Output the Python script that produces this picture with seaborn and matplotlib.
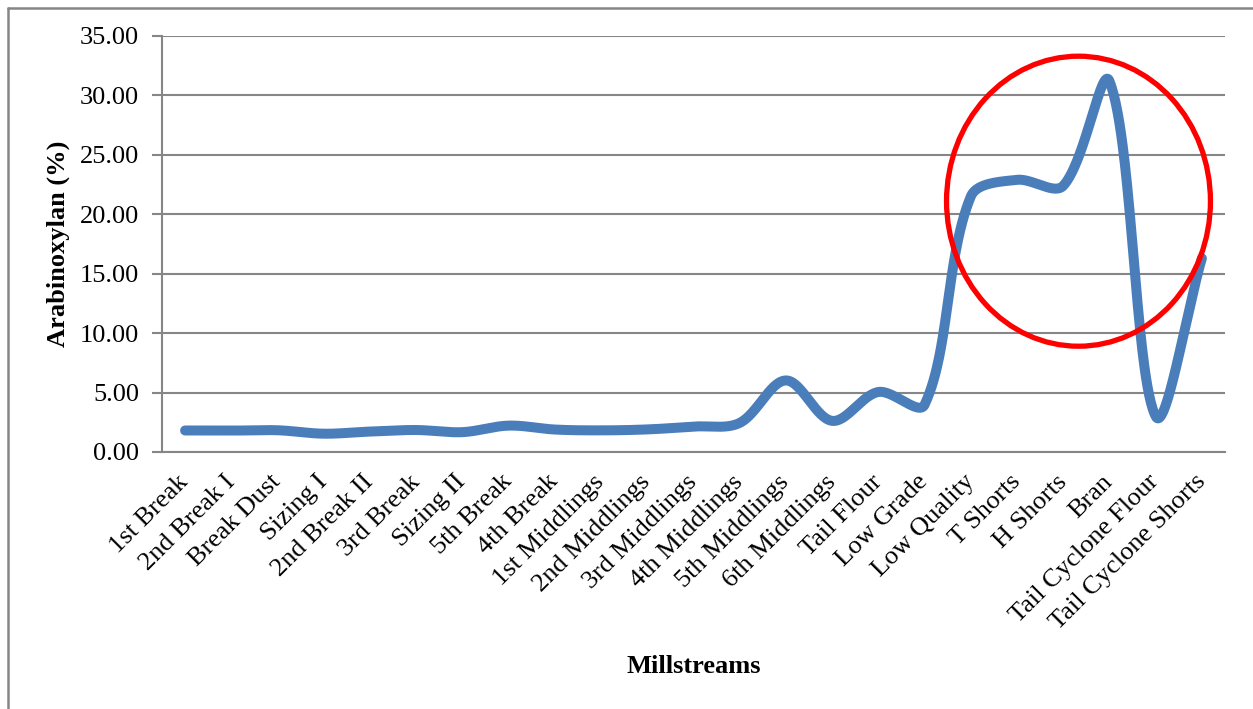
import numpy as np
import pandas as pd
import matplotlib
matplotlib.use("Agg")
import matplotlib.pyplot as plt
import seaborn as sns
from matplotlib.patches import Ellipse
from matplotlib.lines import Line2D

# Arabinoxylan content per millstream
millstreams = [
    "1st Break", "2nd Break I", "Break Dust", "Sizing I", "2nd Break II",
    "3rd Break", "Sizing II", "5th Break", "4th Break", "1st Middlings",
    "2nd Middlings", "3rd Middlings", "4th Middlings", "5th Middlings",
    "6th Middlings", "Tail Flour", "Low Grade", "Low Quality", "T Shorts",
    "H Shorts", "Bran", "Tail Cyclone Flour", "Tail Cyclone Shorts",
]
arabinoxylan = [
    1.81, 1.80, 1.83, 1.54, 1.72, 1.85, 1.67, 2.22, 1.89, 1.82,
    1.90, 2.14, 2.45, 6.02, 2.62, 5.05, 3.98, 21.5, 22.9, 22.4,
    31.2, 3.0, 16.3,
]
y_ticks = [0, 5, 10, 15, 20, 25, 30, 35]

# highlighted region (index position, percent)
highlight_center = (19.33, 21.1)
highlight_size = (5.71, 24.4)

GRAY = "#868686"
BLUE = "#4a7ebb"
FS = 19

W, H = 1253, 709
AX_LEFT, AX_RIGHT, AX_TOP, AX_BOTTOM = 162, 1225, 36, 452


def smooth_curve(x, y, sx, sy, steps=60, tension=1 / 3):
    """Smoothed line through every point; tangents weighted by segment lengths
    measured in display units (sx, sy = pixels per data unit)."""
    P = np.column_stack([np.asarray(x, float) * sx, np.asarray(y, float) * sy])
    n = len(P)
    out_c = np.zeros_like(P)
    in_c = np.zeros_like(P)
    for i in range(n):
        p0 = P[max(i - 1, 0)]
        p2 = P[min(i + 1, n - 1)]
        T = p2 - p0
        d01 = np.linalg.norm(P[i] - p0)
        d12 = np.linalg.norm(p2 - P[i])
        tot = d01 + d12 if d01 + d12 > 0 else 1.0
        out_c[i] = P[i] + T * tension * d12 / tot
        in_c[i] = P[i] - T * tension * d01 / tot
    t = np.linspace(0, 1, steps, endpoint=False)[:, None]
    pts = []
    for i in range(n - 1):
        a, b, c, d = P[i], out_c[i], in_c[i + 1], P[i + 1]
        pts.append((1 - t) ** 3 * a + 3 * (1 - t) ** 2 * t * b
                   + 3 * (1 - t) * t ** 2 * c + t ** 3 * d)
    pts.append(P[-1:])
    pts = np.vstack(pts)
    return pts[:, 0] / sx, pts[:, 1] / sy


sns.set_theme(style="white")
plt.rcParams["font.family"] = ["Liberation Serif", "DejaVu Serif"]

fig = plt.figure(figsize=(W / 100, H / 100), dpi=100)
ax = fig.add_axes([AX_LEFT / W, 1 - AX_BOTTOM / H,
                   (AX_RIGHT - AX_LEFT) / W, (AX_BOTTOM - AX_TOP) / H])

pos = np.arange(len(millstreams))
px_per_cat = (AX_RIGHT - AX_LEFT) / len(millstreams)
px_per_unit = (AX_BOTTOM - AX_TOP) / 35
sx, sy = smooth_curve(pos, arabinoxylan, px_per_cat, px_per_unit)
curve = pd.DataFrame({"pos": sx, "value": sy})
sns.lineplot(data=curve, x="pos", y="value", sort=False, estimator=None,
             color=BLUE, linewidth=7.2, ax=ax, solid_capstyle="round", zorder=3)

ax.add_patch(Ellipse(highlight_center, highlight_size[0], highlight_size[1],
                     fill=False, edgecolor="#ff0000", linewidth=3.8, zorder=4))

ax.set_xlim(-0.5, len(millstreams) - 0.5)
ax.set_ylim(0, 35)

ax.set_yticks(y_ticks)
ax.set_yticklabels([f"{v:.2f}" for v in y_ticks], fontsize=FS, color="black")
ax.yaxis.grid(True, color=GRAY, linewidth=1.5)
ax.set_axisbelow(True)

ax.set_xticks(pos)
ax.set_xticklabels(millstreams, rotation=45, ha="right", va="center",
                   rotation_mode="anchor", fontsize=FS, color="black")
ax.set_xticks(np.arange(-0.5, len(millstreams), 1), minor=True)
ax.tick_params(axis="x", which="major", length=0, pad=19)
ax.tick_params(axis="x", which="minor", length=6, width=1.5, color=GRAY, direction="out")
ax.tick_params(axis="y", which="major", length=7, width=1.5, color=GRAY,
               direction="out", pad=9.5, left=True)

for side in ("top", "right"):
    ax.spines[side].set_visible(False)
for side in ("left", "bottom"):
    ax.spines[side].set_color(GRAY)
    ax.spines[side].set_linewidth(1.5)

ax.set_xlabel("Millstreams", fontsize=FS, fontweight="bold", color="black")
ax.set_ylabel("Arabinoxylan (%)", fontsize=FS, fontweight="bold", color="black")
ax.xaxis.set_label_coords(0.5, (AX_BOTTOM - 655) / (AX_BOTTOM - AX_TOP))
ax.yaxis.set_label_coords((70 - AX_LEFT) / (AX_RIGHT - AX_LEFT), 0.5)

# chart area frame (left and top edges)
fig.add_artist(Line2D([7.5 / W, 7.5 / W], [0, 1 - 8 / H], transform=fig.transFigure,
                      color=GRAY, linewidth=1.8))
fig.add_artist(Line2D([7.5 / W, 1], [1 - 8 / H, 1 - 8 / H], transform=fig.transFigure,
                      color=GRAY, linewidth=1.8))

fig.savefig("out.png", dpi=100, facecolor="white")
